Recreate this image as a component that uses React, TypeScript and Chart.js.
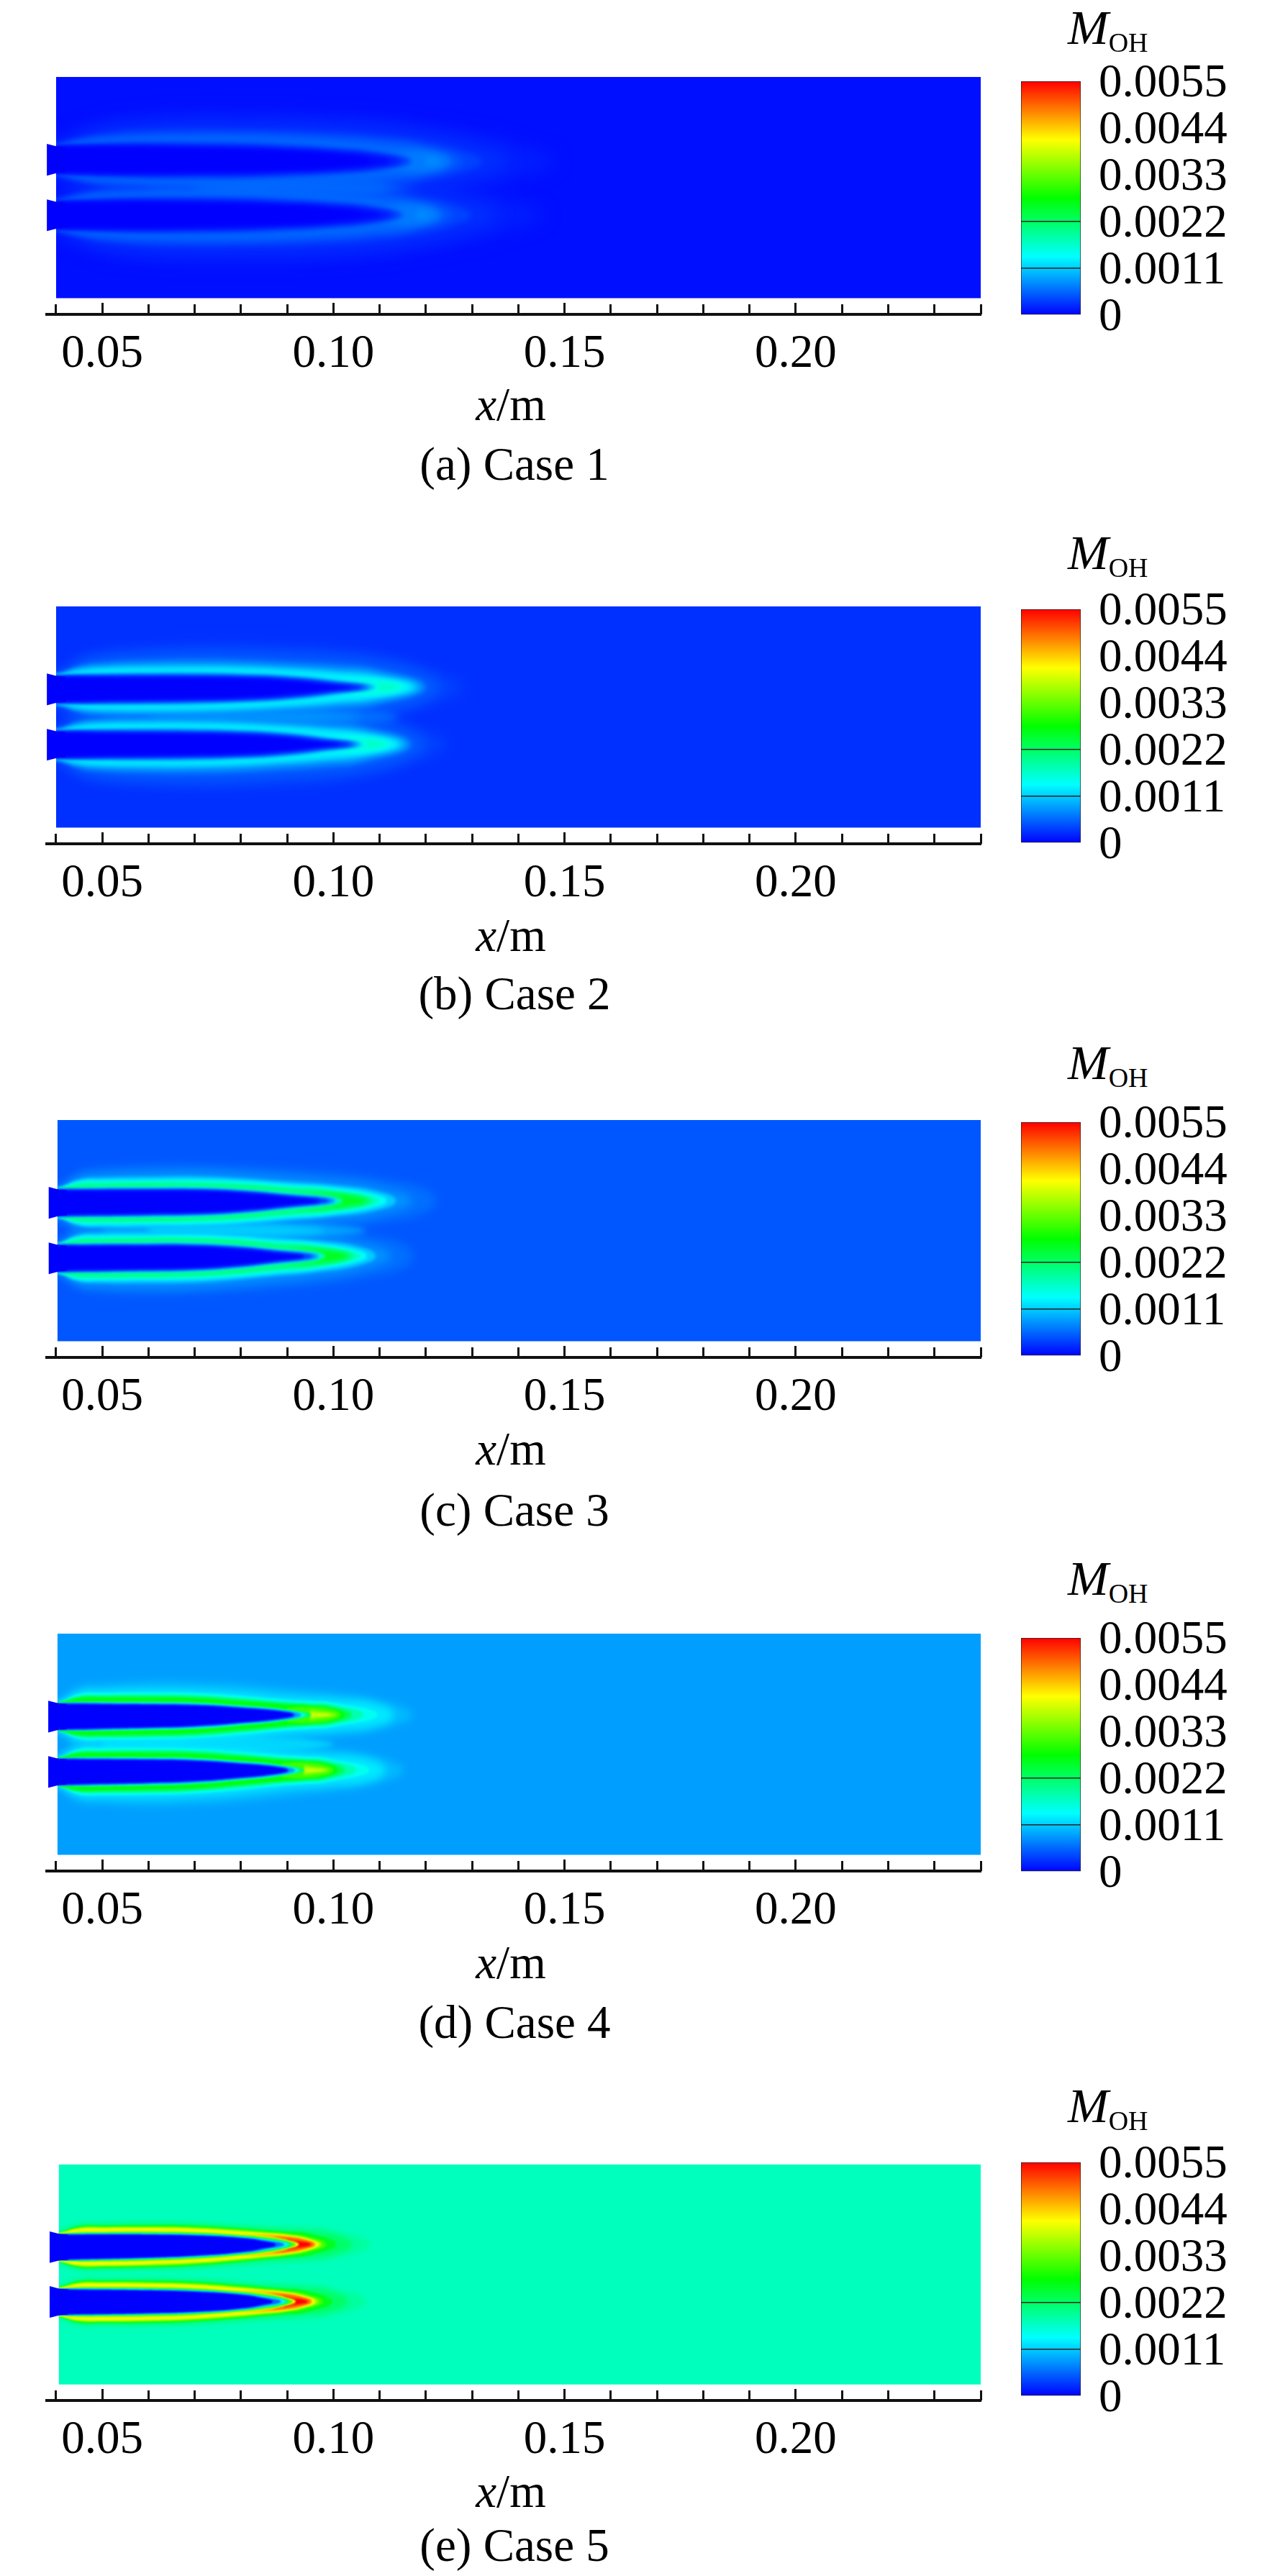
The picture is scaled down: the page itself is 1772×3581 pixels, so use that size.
import { useEffect, useRef } from "react"
import { Chart, registerables } from "chart.js"

// colour scale of the contour plots
const COLORBAR_TICKS = [0, 0.0011, 0.0022, 0.0033, 0.0044, 0.0055]
const COLORBAR_LABELS = ["0", "0.0011", "0.0022", "0.0033", "0.0044", "0.0055"]
const COLORBAR_LINES = [0.0011, 0.0022]
const COLOR_MAX = 0.0055
const COLOR_STOPS: [number, number[]][] = [
  [0, [0, 0, 255]],
  [0.25, [0, 255, 255]],
  [0.5, [0, 255, 0]],
  [0.75, [255, 255, 0]],
  [1, [255, 0, 0]],
]

const X_MAJOR_LABELS = ["0.05", "0.10", "0.15", "0.20"]
const CASE_LABELS = ["(a) Case 1", "(b) Case 2", "(c) Case 3", "(d) Case 4", "(e) Case 5"]

// field level far from the flames, per case
const BACKGROUND = [0.00008, 0.00026, 0.00047, 0.00086, 0.00173]

// left edge of the field and of the nozzle stubs, mm
const FIELD_LEFT = [40, 40, 40.3, 40.3, 40.6]
const NOZZLE_LEFT = [38, 38, 38.4, 38.3, 38.6]

// flame centre lines, mm: y at nozzle and y at the tip, upper then lower
const UPPER_Y = [[6.05, 5.7], [6.0, 6.5], [6.05, 6.5], [6.0, 6.4], [5.96, 6.57]]
const LOWER_Y = [[-6.0, -5.9], [-6.0, -5.9], [-6.0, -5.5], [-6.0, -5.6], [-6.0, -5.9]]
const FLAME_TIP = [121, 110, 104, 98, 93]
// the lower flame is slightly shorter
const LOWER_STRETCH = [0.975, 0.96, 0.94, 0.975, 0.987]

// Contour rows: [level, tip x in mm, half width in mm at each station]
// MID rows are the band between the two flames, centred on y = 0
const CASE1_X = [40, 45, 50, 60, 70, 80, 90, 100, 110, 120, 130, 140]
const CASE1_RISING = [
  [0.00016, 148, 3, 6, 8, 9.5, 10, 10, 10, 9.5, 9, 7.5, 6, 3.5],
  [0.00026, 138, 3, 5, 6.5, 7.6, 8, 8, 8, 7.6, 7, 5.8, 3.5],
  [0.00036, 132, 3, 4.5, 5.6, 6.5, 6.7, 6.7, 6.5, 6.2, 5.5, 4.2, 1.5],
  [0.00046, 128, 3, 4.1, 4.9, 5.6, 5.8, 5.8, 5.6, 5.2, 4.5, 3.2],
  [0.00056, 126, 3, 3.8, 4.4, 4.9, 5.1, 5.1, 4.9, 4.4, 3.7, 2.5],
  [0.00066, 125, null, null, null, null, null, null, null, null, 1, 2.2],
  [0.00076, 123.5, null, null, null, null, null, null, null, null, null, 1.1],
]
const CASE1_MID = [
  [0.00035, 118, null, null, 1, 1.8, 2.4, 2.6, 2.6, 2.6, 2.5],
  [0.00048, 115, null, null, null, 0.6, 1.6, 2, 2, 2, 1.8],
  [0.00058, 112, null, null, null, null, 0.8, 1.3, 1.3, 1.3, 0.9],
]
const CASE1_FALLING = [
  [0.00044, 117, 2.9, 3.3, 3.7, 4, 4.1, 4, 3.7, 3, 1.9],
  [0.00034, 116, 2.9, 3.1, 3.4, 3.7, 3.7, 3.6, 3.2, 2.6, 1.6],
  [0.00024, 115, 2.85, 3, 3.2, 3.4, 3.3, 3.2, 2.8, 2.3, 1.35],
  [0.00014, 114, 2.8, 2.9, 3, 3.1, 3, 2.9, 2.5, 2, 1.05],
  [0.00005, 112, 2.75, 2.75, 2.8, 2.8, 2.7, 2.55, 2.2, 1.7, 0.7],
  [0, 108, 2.7, 2.65, 2.6, 2.6, 2.4, 2.2, 1.9, 1.3],
]

const CASE2_X = [40, 45, 50, 60, 70, 80, 90, 100, 110, 120, 130]
const CASE2_RISING = [
  [0.00035, 128, 3, 6.5, 8, 9, 9.5, 9.5, 9, 8.5, 7, 4],
  [0.0005, 123, 3, 5.8, 7, 7.6, 7.8, 7.6, 7.2, 6.6, 5.4, 2.6],
  [0.0007, 120, 3, 5, 5.8, 6.2, 6.3, 6.1, 5.6, 5, 3.8],
  [0.0009, 119, 3, 4.5, 5, 5.3, 5.3, 5.1, 4.6, 4, 3],
  [0.0011, 118, 3, 4.1, 4.6, 4.8, 4.8, 4.6, 4.1, 3.4, 2.4],
  [0.0013, 117, 3, 3.8, 4.2, 4.3, 4.3, 4.1, 3.6, 2.9, 1.9],
  [0.0015, 115.5, null, null, null, null, null, null, null, 1.2, 1.6],
  [0.0017, 114, null, null, null, null, null, null, null, null, 1],
]
const CASE2_MID = [
  [0.0006, 114, null, null, 0.8, 1.6, 2, 2.2, 2.2, 2, 1.2],
  [0.0008, 106, null, null, null, 0.5, 1.2, 1.4, 1.4, 1],
]
const CASE2_FALLING = [
  [0.001, 109, 2.9, 3.2, 3.4, 3.5, 3.5, 3.2, 2.7, 1.6],
  [0.0007, 108, 2.85, 3.05, 3.15, 3.2, 3.15, 2.9, 2.4, 1.3],
  [0.0004, 107, 2.8, 2.9, 2.9, 2.9, 2.8, 2.6, 2.1, 1.05],
  [0.0002, 106, 2.8, 2.8, 2.7, 2.65, 2.55, 2.35, 1.85, 0.8],
  [0, 104, 2.75, 2.65, 2.5, 2.4, 2.3, 2.1, 1.55, 0.5],
]

const CASE3_X = [40, 45, 50, 60, 70, 80, 90, 100, 110, 120]
const CASE3_RISING = [
  [0.0006, 122, 3.1, 6.5, 7.5, 8, 8, 7.6, 7, 6.2, 4.8, 2.5],
  [0.0008, 117, 3.1, 5.6, 6.2, 6.5, 6.5, 6, 5.2, 4.3, 2.8],
  [0.0011, 113.5, 3, 5, 5.4, 5.5, 5.5, 5, 4.2, 3.4, 1.9],
  [0.0014, 111.5, 3, 4.6, 4.8, 4.8, 4.8, 4.4, 3.6, 2.8, 1.1],
  [0.0017, 110, 3, 4.2, 4.4, 4.4, 4.4, 4, 3.2, 2.4],
  [0.00205, 108.5, 3, 3.9, 4, 4.1, 4, 3.6, 2.8, 2],
  [0.0023, 107.5, null, null, null, null, null, null, 1.2, 1.8],
  [0.0026, 106.5, null, null, null, null, null, null, null, 1.2],
]
const CASE3_MID = [
  [0.0009, 107, null, null, 0.8, 1.5, 1.8, 1.8, 1.7, 1.1],
  [0.0011, 98, null, null, null, 1, 1.4, 1.4, 1],
]
const CASE3_FALLING = [
  [0.0017, 102, 2.9, 3.2, 3.3, 3.3, 3.3, 2.7, 1.8, 0.8],
  [0.0012, 101, 2.9, 3, 3.05, 3.05, 3, 2.5, 1.55, 0.6],
  [0.0007, 100, 2.85, 2.85, 2.9, 2.85, 2.8, 2.3, 1.35, 0.4],
  [0.0003, 99, 2.8, 2.75, 2.75, 2.7, 2.6, 2.15, 1.2],
  [0, 97, 2.75, 2.65, 2.6, 2.5, 2.4, 1.9, 0.95],
]

const CASE4_X = [40, 45, 50, 60, 70, 80, 90, 95, 100, 110]
const CASE4_RISING = [
  [0.001, 117, 3.2, 6.5, 7, 7.5, 7.3, 6.8, 5.8, 5.3, 4.8, 3.2],
  [0.00125, 113, 3.1, 5.3, 5.6, 5.8, 5.6, 5, 4, 3.7, 3.4, 2.2],
  [0.00145, 109.5, 3, 4.9, 5.1, 5.1, 4.9, 4.2, 3.3, 3, 2.6],
  [0.0018, 106.5, 3, 4.5, 4.7, 4.7, 4.5, 3.8, 2.9, 2.6, 2.2],
  [0.0023, 104, 3, 4.2, 4.3, 4.3, 4.1, 3.4, 2.5, 2.2, 1.7],
  [0.0027, 102.5, 3, 3.9, 4, 3.9, 3.7, 3, 2.2, 1.9, 1.3],
  [0.0031, 101.5, null, null, null, null, null, null, 1.5, 1.7, 1],
  [0.0035, 100.5, null, null, null, null, null, null, null, 1.1],
  [0.0039, 99.5, null, null, null, null, null, null, null, 0.5],
]
const CASE4_MID = [
  [0.00115, 100, null, null, 1, 1.6, 1.7, 1.7, 1.4, 1],
]
const CASE4_FALLING = [
  [0.0022, 95.2, 2.9, 3.2, 3.2, 3.1, 2.9, 2.2, 1.2],
  [0.0015, 94, 2.9, 3, 3, 2.9, 2.7, 2, 1],
  [0.0008, 93, 2.85, 2.9, 2.85, 2.7, 2.5, 1.8, 0.85],
  [0, 91.5, 2.8, 2.75, 2.65, 2.5, 2.25, 1.6, 0.6],
]

const CASE5_X = [40, 45, 50, 60, 70, 80, 85, 90, 95, 100]
const CASE5_RISING = [
  [0.0019, 108, 3.4, 5, 5.2, 5.2, 5, 4.5, 4.2, 4, 3.8, 3.2],
  [0.0022, 104, 3.2, 4.7, 4.8, 4.8, 4.6, 3.9, 3.5, 3.2, 2.8, 2.2],
  [0.0026, 100.5, 3.1, 4.5, 4.6, 4.6, 4.35, 3.65, 3.2, 2.8, 2.3],
  [0.0031, 98.5, 3, 4.3, 4.4, 4.35, 4.1, 3.4, 2.95, 2.45, 1.6],
  [0.0036, 97.5, 3, 4.1, 4.2, 4.15, 3.85, 3.15, 2.7, 2.2, 1.2],
  [0.0041, 96.8, 3, 3.9, 4, 3.9, 3.6, 2.9, 2.45, 2, 1],
  [0.0045, 96.2, null, null, null, null, null, 2.4, 2.25, 1.85, 0.8],
  [0.0049, 95.8, null, null, null, null, null, null, 1.6, 1.6, 0.6],
  [0.0052, 95.3, null, null, null, null, null, null, null, 1.3],
  [0.0055, 94.9, null, null, null, null, null, null, null, 0.9],
]
const CASE5_MID: (number | null)[][] = []
const CASE5_FALLING = [
  [0.004, 92.5, 2.95, 3.4, 3.5, 3.45, 3.2, 2.45, 1.95, 1],
  [0.0032, 91.8, 2.9, 3.2, 3.2, 3.15, 2.9, 2.2, 1.7, 0.8],
  [0.0022, 91, 2.85, 3, 3, 2.9, 2.65, 2, 1.45, 0.6],
  [0.0013, 90.3, 2.8, 2.85, 2.8, 2.7, 2.45, 1.8, 1.2, 0.4],
  [0.0006, 89.3, 2.8, 2.75, 2.7, 2.55, 2.3, 1.65, 1],
  [0, 87.5, 2.75, 2.65, 2.6, 2.45, 2.15, 1.5, 0.75],
]

const STATIONS = [CASE1_X, CASE2_X, CASE3_X, CASE4_X, CASE5_X]
const RISING = [CASE1_RISING, CASE2_RISING, CASE3_RISING, CASE4_RISING, CASE5_RISING]
const MID = [CASE1_MID, CASE2_MID, CASE3_MID, CASE4_MID, CASE5_MID]
const FALLING = [CASE1_FALLING, CASE2_FALLING, CASE3_FALLING, CASE4_FALLING, CASE5_FALLING]

// page layout, px
const PANEL_TOP = [107, 843, 1557, 2271, 3009]
const AXIS_Y = [437, 1173, 1887, 2601, 3337]
const BAR_TOP = [113, 847, 1560, 2277, 3006]
const BAR_HEIGHT = 325
const X_TITLE_Y = [562, 1300, 2014, 2728, 3463]
const CAPTION_Y = [645, 1381, 2099, 2811, 3538]
const SYMBOL_TOP = [4, 734, 1443, 2160, 2893]
const RISING_BLUR = [4, 3, 2.2, 1.8, 1.2]
const FALLING_BLUR = [3, 2.5, 2, 1.5, 1]

const FONT = "'Liberation Serif', serif"
const INK = "#111"
const X_MIN = 0.03798
const X_MAX = 0.24
const Y_MIN = -27.5
const Y_MAX = 24

function levelColor(value: number) {
  const t = Math.min(1, value / COLOR_MAX)
  for (let i = 1; i < COLOR_STOPS.length; i++) {
    const [t0, c0] = COLOR_STOPS[i - 1]
    const [t1, c1] = COLOR_STOPS[i]
    if (t <= t1) {
      const f = (t - t0) / (t1 - t0)
      const rgb = c0.map((c, k) => Math.round(c + (c1[k] - c) * f))
      return `rgb(${rgb.join(",")})`
    }
  }
  return "rgb(255,0,0)"
}

// closed outline of one contour row around a flame centre line
function outline(row: any[], stations: number[], ys: number[], tipRef: number, stretch: number) {
  const [, tip, ...widths] = row
  const centre = (x: number) => ys[0] + (ys[1] - ys[0]) * Math.min(1, (x - 40) / (tipRef - 40))
  const top: { x: number; y: number }[] = []
  const bottom: { x: number; y: number }[] = []
  widths.forEach((h: number | null, i: number) => {
    if (h === null) return
    const x = 40 + (stations[i] - 40) * stretch
    if (stations[i] === 40) {
      top.push({ x: 0.034, y: centre(x) + h })
      bottom.unshift({ x: 0.034, y: centre(x) - h })
    }
    top.push({ x: x / 1000, y: centre(x) + h })
    bottom.unshift({ x: x / 1000, y: centre(x) - h })
  })
  const tipX = 40 + (tip - 40) * stretch
  return [...top, { x: tipX / 1000, y: centre(tipX) }, ...bottom]
}

function shape(data: { x: number; y: number }[], color: string, blur: number, tension: number, clipLeft?: number) {
  return {
    data,
    showLine: true,
    fill: "shape",
    backgroundColor: color,
    borderWidth: 0,
    pointRadius: 0,
    tension,
    blur,
    clipLeft,
  }
}

function buildDatasets(c: number) {
  const left = FIELD_LEFT[c] / 1000
  const out: any[] = [
    shape(
      [
        { x: left, y: 24 },
        { x: X_MAX, y: 24 },
        { x: X_MAX, y: -24 },
        { x: left, y: -24 },
      ],
      levelColor(BACKGROUND[c]),
      0,
      0,
    ),
  ]
  const flames = [
    { ys: UPPER_Y[c], stretch: 1 },
    { ys: LOWER_Y[c], stretch: LOWER_STRETCH[c] },
  ]
  // everything outside the cold cores, painted from the lowest level up
  const rows: { level: number; pts: any[]; blur: number }[] = []
  RISING[c].forEach((row, i) => {
    flames.forEach((f) => {
      rows.push({
        level: row[0] as number,
        pts: outline(row, STATIONS[c], f.ys, FLAME_TIP[c], f.stretch),
        blur: i < 2 ? RISING_BLUR[c] * 3 : RISING_BLUR[c],
      })
    })
  })
  MID[c].forEach((row) => {
    rows.push({
      level: row[0] as number,
      pts: outline(row, STATIONS[c], [0, 0], FLAME_TIP[c], 1),
      blur: RISING_BLUR[c] * 2,
    })
  })
  rows.sort((a, b) => a.level - b.level)
  rows.forEach((r) => out.push(shape(r.pts, levelColor(r.level), r.blur, 0.5, left)))

  FALLING[c].forEach((row) => {
    flames.forEach((f) => {
      const pts = outline(row, STATIONS[c], f.ys, FLAME_TIP[c], f.stretch)
      out.push(shape(pts, levelColor(row[0] as number), FALLING_BLUR[c], 0.5, left))
    })
  })
  // nozzle stubs stick out left of the field
  flames.forEach((f) => {
    const y = f.ys[0]
    const x0 = NOZZLE_LEFT[c] / 1000
    out.push(
      shape(
        [
          { x: x0, y: y + 3.45 },
          { x: left + 0.0003, y: y + 2.85 },
          { x: left + 0.002, y: y + 2.75 },
          { x: left + 0.002, y: y - 2.75 },
          { x: left + 0.0003, y: y - 2.85 },
          { x: x0, y: y - 3.45 },
        ],
        levelColor(0),
        0,
        0,
      ),
    )
  })
  out.forEach((d, i) => {
    d.order = out.length - i
  })
  return out
}

// has to run before the filler, so it is registered first
const contourPlugin = {
  id: "contourBlur",
  beforeDatasetDraw(chart: any, args: any) {
    const ds = chart.data.datasets[args.index]
    if (ds.clipLeft === undefined) return
    const { ctx, scales } = chart
    const x0 = scales.x.getPixelForValue(ds.clipLeft)
    const x1 = scales.x.getPixelForValue(X_MAX)
    const y0 = scales.y.getPixelForValue(24)
    const y1 = scales.y.getPixelForValue(-24)
    ctx.save()
    ctx.beginPath()
    ctx.rect(x0, y0, x1 - x0, y1 - y0)
    ctx.clip()
    ctx.filter = `blur(${ds.blur}px)`
  },
  afterDatasetDraw(chart: any, args: any) {
    const ds = chart.data.datasets[args.index]
    if (ds.clipLeft === undefined) return
    chart.ctx.filter = "none"
    chart.ctx.restore()
  },
}

Chart.register(contourPlugin)
Chart.register(...registerables)

function FieldChart({ index }: { index: number }) {
  const ref = useRef<HTMLCanvasElement>(null)

  useEffect(() => {
    if (!ref.current) return
    const chart = new Chart(ref.current, {
      type: "scatter",
      data: { datasets: buildDatasets(index) },
      options: {
        animation: false,
        responsive: false,
        devicePixelRatio: 1,
        layout: { padding: { left: 65, right: 37, top: 4, bottom: 90 } },
        plugins: { legend: { display: false }, tooltip: { enabled: false } },
        scales: {
          y: { display: false, min: Y_MIN, max: Y_MAX },
          x: {
            type: "linear",
            position: { y: Y_MIN },
            min: X_MIN,
            max: X_MAX,
            border: { display: true, color: INK, width: 4 },
            grid: { drawOnChartArea: false, tickLength: -18, tickWidth: 3, tickColor: INK },
            ticks: {
              stepSize: 0.05,
              includeBounds: false,
              autoSkip: false,
              maxRotation: 0,
              minRotation: 0,
              padding: 41,
              color: "#000",
              font: { family: FONT, size: 65, lineHeight: 1 },
              callback: (_v: any, i: number) => X_MAJOR_LABELS[i] ?? "",
            },
          },
          x2: {
            type: "linear",
            axis: "x",
            position: { y: Y_MIN },
            min: X_MIN,
            max: X_MAX,
            border: { display: false },
            grid: { drawOnChartArea: false, tickLength: -14, tickWidth: 3, tickColor: INK },
            ticks: { stepSize: 0.01, includeBounds: false, autoSkip: false, display: false },
          },
        },
      } as any,
    })
    return () => chart.destroy()
  }, [index])

  const top = PANEL_TOP[index] - 4
  return (
    <canvas
      ref={ref}
      width={1400}
      height={AXIS_Y[index] - top + 90}
      style={{ position: "absolute", left: 0, top, display: "block" }}
    />
  )
}

function ColorBar({ index }: { index: number }) {
  const ref = useRef<HTMLCanvasElement>(null)

  useEffect(() => {
    if (!ref.current) return
    const chart = new Chart(ref.current, {
      type: "bar",
      data: {
        labels: ["level"],
        datasets: [
          {
            data: [[0, COLOR_MAX]],
            barPercentage: 1,
            categoryPercentage: 1,
            borderWidth: 1,
            borderSkipped: false,
            borderColor: "#222",
            backgroundColor: (ctx: any) => {
              const area = ctx.chart.chartArea
              if (!area) return "#00f"
              const g = ctx.chart.ctx.createLinearGradient(0, area.bottom, 0, area.top)
              COLOR_STOPS.forEach(([t, rgb]) => g.addColorStop(t, `rgb(${rgb.join(",")})`))
              return g
            },
          },
        ],
      },
      options: {
        animation: false,
        responsive: false,
        devicePixelRatio: 1,
        layout: { padding: { left: 19, top: 40, bottom: 40 } },
        plugins: { legend: { display: false }, tooltip: { enabled: false } },
        scales: {
          x: { display: false },
          y: {
            position: "right",
            min: 0,
            max: COLOR_MAX,
            afterFit: (axis: any) => {
              axis.width = 270
              axis.paddingTop = 0
              axis.paddingBottom = 0
            },
            afterBuildTicks: (axis: any) => {
              axis.ticks = COLORBAR_TICKS.map((value) => ({ value }))
            },
            border: { display: false },
            grid: {
              z: 1,
              drawTicks: false,
              lineWidth: 1.5,
              color: (ctx: any) => (COLORBAR_LINES.includes(ctx.tick?.value) ? "#222" : "rgba(0,0,0,0)"),
            },
            ticks: {
              padding: 25,
              labelOffset: 4,
              color: "#000",
              autoSkip: false,
              font: { family: FONT, size: 65, lineHeight: 1 },
              callback: (_v: any, i: number) => COLORBAR_LABELS[i],
            },
          },
        },
      } as any,
    })
    return () => chart.destroy()
  }, [index])

  return (
    <canvas
      ref={ref}
      width={372}
      height={BAR_HEIGHT + 80}
      style={{ position: "absolute", left: 1400, top: BAR_TOP[index] - 40, display: "block" }}
    />
  )
}

function centred(x: number, y: number): React.CSSProperties {
  return {
    position: "absolute",
    left: x,
    top: y,
    transform: "translate(-50%, -50%)",
    whiteSpace: "nowrap",
    lineHeight: 1,
    fontFamily: FONT,
    fontSize: 65,
    color: "#000",
  }
}

export default function App() {
  return (
    <div style={{ position: "absolute", left: 0, top: 0, width: 1772, height: 3581, background: "#fff", overflow: "hidden" }}>
      {CASE_LABELS.map((label, i) => (
        <div key={label}>
          <FieldChart index={i} />
          <ColorBar index={i} />
          <div style={{ ...centred(710, X_TITLE_Y[i]) }}>
            <i>x</i>/m
          </div>
          <div style={{ ...centred(715, CAPTION_Y[i]) }}>{label}</div>
          <div
            style={{
              position: "absolute",
              left: 1484,
              top: SYMBOL_TOP[i],
              whiteSpace: "nowrap",
              lineHeight: 1,
              fontFamily: FONT,
              fontSize: 68,
              color: "#000",
            }}
          >
            <i>M</i>
            <span style={{ fontSize: 38, position: "relative", top: 11 }}>OH</span>
          </div>
        </div>
      ))}
    </div>
  )
}
